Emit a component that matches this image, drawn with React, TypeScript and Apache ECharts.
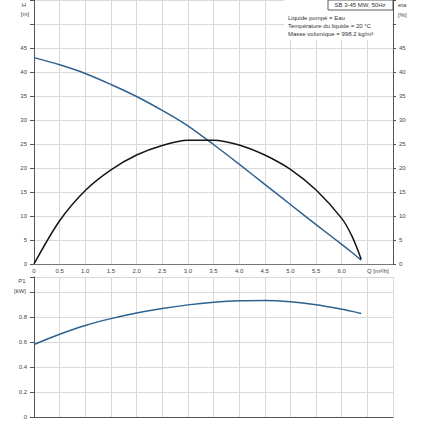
import React, { useEffect, useRef } from 'react';
import * as echarts from 'echarts';

// débit Q [m³/h]
const flowQ = [0, 0.5, 1.0, 1.5, 2.0, 2.5, 3.0, 3.5, 4.0, 4.5, 5.0, 5.5, 6.0, 6.2, 6.38];
// hauteur H [m]
const headH = [43.0, 41.5, 39.7, 37.4, 34.9, 32.0, 28.8, 24.9, 20.8, 16.6, 12.4, 8.2, 4.1, 2.4, 0.8];
// rendement eta [%]
const effEta = [0, 9.0, 15.3, 19.6, 22.7, 24.7, 25.8, 25.8, 24.8, 22.7, 19.7, 15.4, 9.5, 5.8, 1.0];
// puissance P1 [kW]
const powerP1 = [0.58, 0.662, 0.732, 0.787, 0.832, 0.868, 0.897, 0.918, 0.93, 0.932, 0.922, 0.898, 0.862, 0.845, 0.828];

const infoLines = [
  'Liquide pompé = Eau',
  'Température du liquide = 20 °C',
  'Masse volumique = 998.2 kg/m³',
];

const FONT = 'Liberation Sans';
const TXT = '#444';
const GRID = '#d9d9d9';
const AXIS = '#555';

const zip = (ys: number[]) => flowQ.map((q, i) => [q, ys[i]]);

const App = () => {
  const chartRef = useRef(null);

  useEffect(() => {
    const myChart = echarts.init(chartRef.current, null, { renderer: 'svg' });

    const small = { fontFamily: FONT, fontSize: 6, color: TXT };

    const option = {
      animation: false,
      textStyle: { fontFamily: FONT },
      grid: [
        { left: 34, top: 0, width: 359, height: 264, outerBoundsMode: 'none' },
        { left: 34, top: 277, width: 359, height: 140, outerBoundsMode: 'none' },
      ],
      xAxis: [
        {
          type: 'value', gridIndex: 0, min: 0, max: 7, interval: 0.5,
          axisLine: { show: true, lineStyle: { color: '#777', width: 1 } },
          axisTick: { show: false },
          axisLabel: {
            ...small, margin: 4,
            formatter: (v: number) => (v === 0 ? '0' : v <= 6 ? v.toFixed(1) : ''),
          },
          splitLine: { show: true, lineStyle: { color: GRID, width: 1 } },
        },
        {
          type: 'value', gridIndex: 1, min: 0, max: 7, interval: 0.5,
          axisLine: { show: true, lineStyle: { color: AXIS, width: 1 } },
          axisTick: { show: false },
          axisLabel: { show: false },
          splitLine: { show: true, lineStyle: { color: GRID, width: 1 } },
        },
      ],
      yAxis: [
        {
          type: 'value', gridIndex: 0, position: 'left', min: 0, max: 55, interval: 5,
          axisLine: { show: true, lineStyle: { color: AXIS, width: 1 } },
          axisTick: { show: true, length: 4, lineStyle: { color: AXIS } },
          axisLabel: { ...small, margin: 7, formatter: (v: number) => (v <= 45 ? String(v) : '') },
          splitLine: { show: true, lineStyle: { color: GRID, width: 1 } },
        },
        {
          type: 'value', gridIndex: 0, position: 'right', min: 0, max: 55, interval: 5,
          axisLine: { show: true, lineStyle: { color: AXIS, width: 1 } },
          axisTick: { show: true, length: 3, lineStyle: { color: AXIS } },
          axisLabel: { ...small, margin: 6, formatter: (v: number) => (v <= 45 ? String(v) : '') },
          splitLine: { show: false },
        },
        {
          type: 'value', gridIndex: 1, position: 'left', min: 0, max: 1.12, interval: 0.2,
          axisLine: { show: true, lineStyle: { color: AXIS, width: 1 } },
          axisTick: { show: true, length: 4, lineStyle: { color: AXIS } },
          axisLabel: {
            ...small, margin: 7,
            formatter: (v: number) => (v === 0 ? '0' : v < 0.9 ? v.toFixed(1) : ''),
          },
          splitLine: { show: true, lineStyle: { color: GRID, width: 1 } },
        },
      ],
      graphic: [
        { type: 'rect', z: 100, shape: { x: 284, y: 0, width: 108, height: 40 }, style: { fill: '#fff' } },
        { type: 'rect', z: 101, shape: { x: 328, y: 0, width: 65, height: 10 }, style: { fill: '#fff', stroke: '#333', lineWidth: 0.8 } },
        { type: 'text', z: 102, x: 360, y: 5, style: { text: 'SB 3-45 MW, 50Hz', font: `6px ${FONT}`, fill: '#333', align: 'center', verticalAlign: 'middle' } },
        ...infoLines.map((t, i) => ({
          type: 'text', z: 102, x: 288, y: 18 + i * 8,
          style: { text: t, font: `6px ${FONT}`, fill: '#333', align: 'left', verticalAlign: 'middle' },
        })),
        { type: 'text', z: 102, x: 24, y: 5, style: { text: 'H', font: `6px ${FONT}`, fill: TXT, align: 'center', verticalAlign: 'middle' } },
        { type: 'text', z: 102, x: 25, y: 14, style: { text: '[m]', font: `6px ${FONT}`, fill: TXT, align: 'center', verticalAlign: 'middle' } },
        { type: 'text', z: 102, x: 398, y: 5, style: { text: 'eta', font: `6px ${FONT}`, fill: TXT, align: 'left', verticalAlign: 'middle' } },
        { type: 'text', z: 102, x: 398, y: 15, style: { text: '[%]', font: `6px ${FONT}`, fill: TXT, align: 'left', verticalAlign: 'middle' } },
        { type: 'text', z: 102, x: 22, y: 281, style: { text: 'P1', font: `6px ${FONT}`, fill: TXT, align: 'center', verticalAlign: 'middle' } },
        { type: 'text', z: 102, x: 20, y: 291, style: { text: '[kW]', font: `6px ${FONT}`, fill: TXT, align: 'center', verticalAlign: 'middle' } },
        { type: 'text', z: 102, x: 367, y: 271, style: { text: 'Q [m³/h]', font: `6px ${FONT}`, fill: TXT, align: 'left', verticalAlign: 'middle' } },
      ],
      series: [
        {
          name: 'H', type: 'line', xAxisIndex: 0, yAxisIndex: 0, data: zip(headH),
          smooth: 0.3, symbol: 'none', lineStyle: { color: '#2d6190', width: 1.5 },
        },
        {
          name: 'eta', type: 'line', xAxisIndex: 0, yAxisIndex: 1, data: zip(effEta),
          smooth: 0.3, symbol: 'none', lineStyle: { color: '#151515', width: 1.5 },
        },
        {
          name: 'P1', type: 'line', xAxisIndex: 1, yAxisIndex: 2, data: zip(powerP1),
          smooth: 0.3, symbol: 'none', lineStyle: { color: '#2d6190', width: 1.5 },
        },
      ],
    };

    myChart.setOption(option);

    return () => {
      myChart.dispose();
    };
  }, []);

  return (
    <div
      ref={chartRef}
      style={{ position: 'fixed', left: 0, top: 0, width: '423px', height: '423px', background: '#fff' }}
    />
  );
};

export default App;
